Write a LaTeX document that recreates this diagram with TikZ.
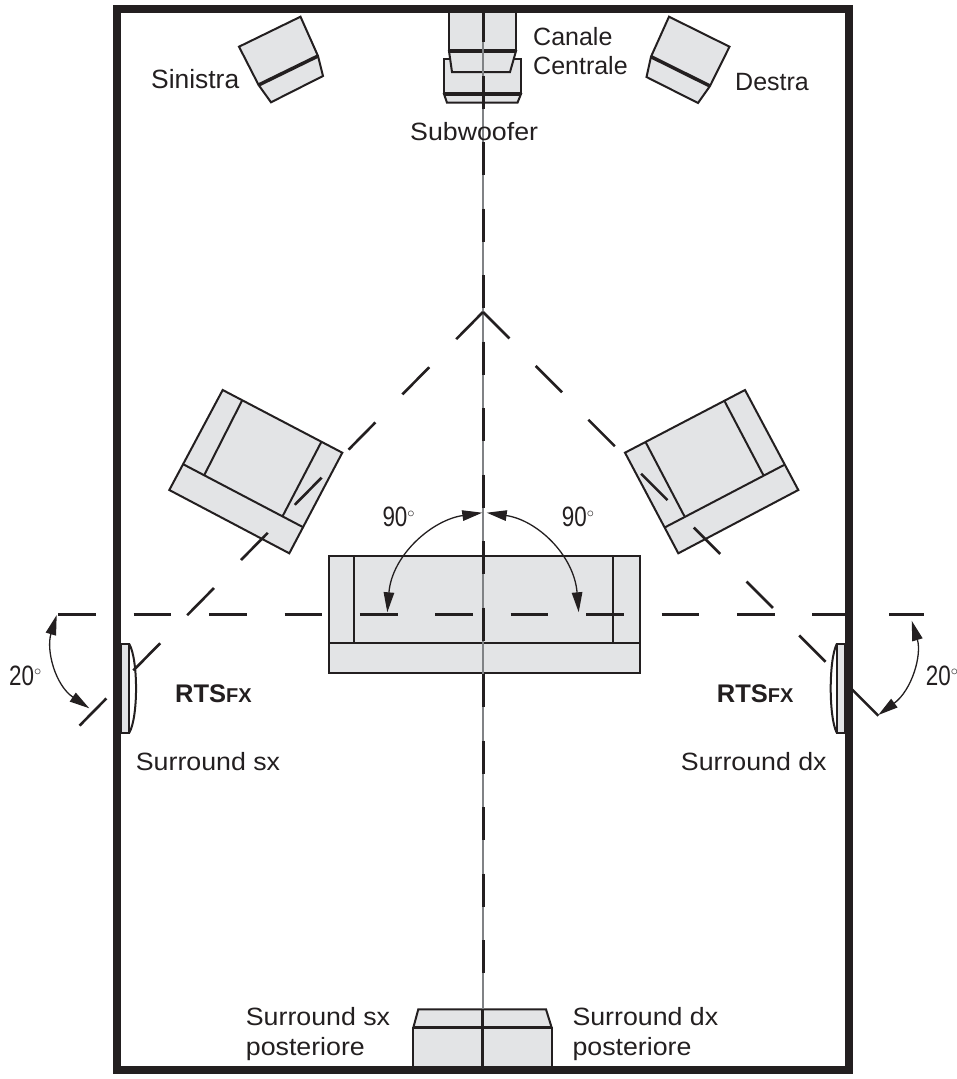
\documentclass[tikz,border=0pt]{standalone}
\usepackage{fontspec}
\setmainfont{Liberation Sans}
\newfontfamily\widefont[FakeStretch=1.07]{Liberation Sans}
\newfontfamily\narrowfont[FakeStretch=0.8]{Liberation Sans}
\usetikzlibrary{arrows.meta}
\definecolor{ink}{HTML}{231F20}
\definecolor{boxfill}{HTML}{E3E4E6}
\definecolor{axisgray}{HTML}{808285}
\begin{document}
\begin{tikzpicture}[x=1pt, y=-1pt]
\tikzstyle{box} = [draw=ink, fill=boxfill, line width=2pt, line join=miter];
\tikzstyle{thinbox} = [draw=ink, line width=2pt];
\tikzstyle{heavy} = [draw=ink, line width=3.5pt];
\tikzstyle{dashline} = [draw=ink, line width=3pt];
\tikzstyle{arcline} = [draw=ink, line width=1.3pt, {Stealth[length=20pt,width=10.5pt,inset=0pt]}-{Stealth[length=20pt,width=10.5pt,inset=0pt]}];
\tikzstyle{textlabel} = [inner sep=0pt, anchor=base west, text=ink, font=\fontsize{25}{30}\selectfont];
\tikzstyle{widelabel} = [textlabel, font=\fontsize{25}{30}\selectfont\widefont];
\tikzstyle{degreelabel} = [textlabel, font=\fontsize{28}{30}\selectfont\narrowfont];
\tikzstyle{brandlabel} = [inner sep=0pt, anchor=base west, text=ink, font=\fontsize{25.5}{30}\selectfont\bfseries];
\useasboundingbox (0, 0) rectangle (956, 1079);
% front speakers
\draw [box] (300.5, 16.7) -- (239, 46.7) -- (258.6, 85) -- (271, 102.3) -- (323, 76) -- (318, 56) -- cycle;
\draw [heavy] (258.6, 85) -- (318, 56);
\draw [box] (669, 16.7) -- (729.5, 46.7) -- (710, 86) -- (698, 103) -- (646.5, 77) -- (651, 56.7) -- cycle;
\draw [heavy] (710, 86) -- (651, 56.7);
\draw [box] (444, 59) rectangle (521, 94);
\draw [box] (444, 94) -- (521, 94) -- (517.5, 102.7) -- (447, 102.7) -- cycle;
\draw [heavy] (444, 94) -- (521, 94);
\draw [box] (449, 10) rectangle (516, 51);
\draw [box] (449, 51) -- (516, 51) -- (510, 72) -- (452, 72) -- cycle;
\draw [heavy] (449, 51) -- (516, 51);
% chairs and sofa
\draw [box] (222.7, 390) -- (342.3, 452.7) -- (289.3, 553.3) -- (169.3, 490) -- cycle;
\draw [thinbox] (183.3, 464.3) -- (303.3, 527.3);
\draw [thinbox] (242, 400.7) -- (204.3, 475);
\draw [thinbox] (321.3, 442) -- (282.7, 516);
\draw [box] (745, 390) -- (798.3, 490) -- (678.3, 553.3) -- (625, 452.7) -- cycle;
\draw [thinbox] (784, 465) -- (665, 527.3);
\draw [thinbox] (724.3, 400.7) -- (763.3, 475);
\draw [thinbox] (645.7, 442.3) -- (684.3, 516);
\draw [box] (328.7, 556) rectangle (640, 672.7);
\draw [thinbox] (328.7, 642.7) -- (640, 642.7);
\draw [thinbox] (354.3, 556) -- (354.3, 642.7);
\draw [thinbox] (612.7, 556) -- (612.7, 642.7);
% rear speakers
\draw [box] (418.3, 1009.3) -- (546, 1009.3) -- (551.7, 1027.7) -- (413.3, 1027.7) -- cycle;
\draw [box] (413.3, 1027.7) rectangle (551.7, 1068);
\draw [heavy] (413.3, 1027.7) -- (551.7, 1027.7);
% surround speakers
\draw [box] (121, 644) rectangle (129.3, 732.7);
\draw [thinbox] (129.3, 644) .. controls (138.3, 660) and (138.3, 717) .. (129.3, 732.7);
\draw [box] (845, 644) rectangle (836.7, 732.7);
\draw [thinbox] (836.7, 644) .. controls (828.7, 660) and (828.7, 717) .. (836.7, 732.7);
% axis lines
\draw [axisgray, line width=1.3pt] (483, 42) -- (483, 1010);
\foreach \k in {0, 1, ..., 14}
  \draw [dashline] (483, 9 + 66.5*\k) -- (483, 42 + 66.5*\k);
\draw [dashline, line width=3.5pt] (482.7, 1009) -- (482.7, 1066);
\foreach \k in {0, 1, ..., 10}
  \draw [dashline] (58.3 + 75.4*\k, 614.3) -- (96 + 75.4*\k, 614.3);
\draw [dashline] (889, 614.3) -- (924, 614.3);
\foreach \k in {0, 1, ..., 7}
  \draw [dashline, line width=2.6pt] (483 - 53.8*\k, 312 + 55.2*\k) -- (456.2 - 53.8*\k, 339.2 + 55.2*\k);
\foreach \k in {0, 1, ..., 7}
  \draw [dashline, line width=2.6pt] (483 + 52.7*\k, 312 + 53.9*\k) -- (509.4 + 52.7*\k, 338.4 + 53.9*\k);
% room
\draw [draw=ink, line width=8pt] (117, 9) rectangle (849, 1070);
% angles
\coordinate (centre left) at (482.3, 512.7);
\coordinate (centre right) at (486.7, 512.7);
\coordinate (sofa left) at (387.3, 612.3);
\coordinate (sofa right) at (578.7, 612.3);
\coordinate (axis left) at (56.7, 615);
\coordinate (axis right) at (911.7, 620.7);
\coordinate (ray left) at (89.3, 708.3);
\coordinate (ray right) at (878.3, 715);
\path [arcline] (centre left) .. controls (432, 520) and (392, 555) .. (sofa left);
\path [arcline] (centre right) .. controls (537, 520) and (574, 555) .. (sofa right);
\path [arcline] (axis left) .. controls (46, 650) and (55, 685) .. (ray left);
\path [arcline] (axis right) .. controls (922, 655) and (912, 690) .. (ray right);
% labels
\node [textlabel, font=\fontsize{26.4}{30}\selectfont] at (151, 88) (sinistra) {Sinistra};
\node [textlabel] at (533, 45) (canale) {Canale};
\node [textlabel] at (533, 74) (centrale) {Centrale};
\node [textlabel] at (735, 90) (destra) {Destra};
\node [widelabel] at (410, 140) (subwoofer) {Subwoofer};
\node [degreelabel] at (382.3, 526.7) (ninety left) {90$^{\scriptscriptstyle\circ}$};
\node [degreelabel] at (561.7, 526.7) (ninety right) {90$^{\scriptscriptstyle\circ}$};
\node [degreelabel] at (9, 685) (twenty left) {20$^{\scriptscriptstyle\circ}$};
\node [degreelabel] at (925.7, 685) (twenty right) {20$^{\scriptscriptstyle\circ}$};
\node [brandlabel] at (175, 702.7) (rts left) {RTS{\fontsize{20}{30}\selectfont FX}};
\node [brandlabel] at (716.7, 702.7) (rts right) {RTS{\fontsize{20}{30}\selectfont FX}};
\node [widelabel] at (135.7, 770.7) (surround sx) {Surround sx};
\node [widelabel] at (680.7, 770.7) (surround dx) {Surround dx};
\node [widelabel] at (245.7, 1025) (rear sx) {Surround sx};
\node [widelabel] at (245.7, 1055) (rear sx two) {posteriore};
\node [widelabel] at (572.3, 1025) (rear dx) {Surround dx};
\node [widelabel] at (572.3, 1055) (rear dx two) {posteriore};
\end{tikzpicture}
\end{document}
